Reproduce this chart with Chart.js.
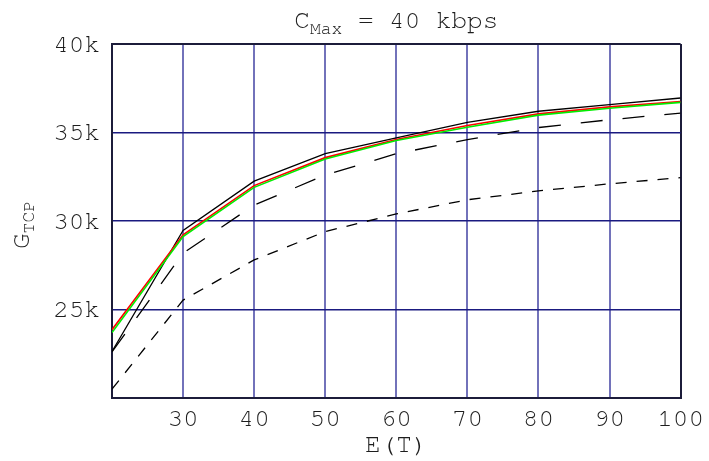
<!DOCTYPE html>
<html>
<head>
<meta charset="utf-8">
<script src="https://cdn.jsdelivr.net/npm/chart.js@4"></script>
<style>
  html, body { margin: 0; padding: 0; background: #fff; }
  #wrap { width: 709px; height: 461px; position: relative; }
</style>
</head>
<body>
<div id="wrap"><canvas id="c" width="709" height="461"></canvas></div>
<script>
const xValues = [20, 30, 40, 50, 60, 70, 80, 90, 100];
const solidBlack = [22630, 29470, 32250, 33800, 34700, 35570, 36200, 36570, 36950];
const redLine    = [23860, 29220, 32000, 33580, 34600, 35400, 36050, 36450, 36750];
const greenLine  = [23700, 29120, 31900, 33500, 34550, 35300, 35980, 36370, 36700];
const longDash   = [22600, 28180, 30900, 32600, 33800, 34600, 35280, 35720, 36100];
const shortDash  = [20500, 25530, 27800, 29400, 30400, 31200, 31700, 32100, 32450];
const xTicks = [30, 40, 50, 60, 70, 80, 90, 100];
const yTickLabels = { 25000: '25k', 30000: '30k', 35000: '35k', 40000: '40k' };

const FONT = "'Nimbus Mono PS', 'FreeMono', 'Courier New', Courier, 'Liberation Mono', monospace";
const TEXT = '#1e1e1e';
const pts = arr => xValues.map((x, i) => ({ x: x, y: arr[i] }));

const titlePlugin = {
  id: 'titles',
  afterDraw(chart) {
    const ctx = chart.ctx, a = chart.chartArea;
    const cx = (a.left + a.right) / 2;
    ctx.save();
    ctx.fillStyle = TEXT;
    ctx.textBaseline = 'alphabetic';
    ctx.textAlign = 'left';
    const big = '26px ' + FONT, small = '18px ' + FONT;
    ctx.font = big; const w1 = ctx.measureText('C').width;
    ctx.font = small; const w2 = ctx.measureText('Max').width;
    ctx.font = big; const w3 = ctx.measureText(' = 40 kbps').width;
    let x0 = cx - (w1 + w2 + w3) / 2;
    const ty = 28;
    ctx.font = big; ctx.fillText('C', x0, ty);
    ctx.font = small; ctx.fillText('Max', x0 + w1, ty + 6);
    ctx.font = big; ctx.fillText(' = 40 kbps', x0 + w1 + w2, ty);
    ctx.textAlign = 'center';
    ctx.font = big; ctx.fillText('E(T)', cx, 452);
    ctx.textAlign = 'left';
    ctx.font = big; const g1 = ctx.measureText('G').width;
    ctx.font = small; const g2 = ctx.measureText('TCP').width;
    ctx.translate(29, 225);
    ctx.rotate(-Math.PI / 2);
    const s = -(g1 + g2) / 2;
    ctx.font = big; ctx.fillText('G', s, 0);
    ctx.font = small; ctx.fillText('TCP', s + g1, 5);
    ctx.restore();
  }
};

const edge = '#1c1c3a';
new Chart(document.getElementById('c'), {
  type: 'line',
  data: {
    datasets: [
      { data: pts(shortDash), borderColor: '#000', borderWidth: 1.3, borderDash: [11, 10] },
      { data: pts(longDash), borderColor: '#000', borderWidth: 1.3, borderDash: [22, 20] },
      { data: pts(greenLine), borderColor: '#00ee00', borderWidth: 1.6 },
      { data: pts(redLine), borderColor: '#ff0000', borderWidth: 1.6 },
      { data: pts(solidBlack), borderColor: '#000', borderWidth: 1.3 }
    ]
  },
  options: {
    responsive: false,
    animation: false,
    layout: { padding: { top: 44, right: 25, left: 0, bottom: 0 } },
    elements: { point: { radius: 0 }, line: { tension: 0, fill: false } },
    plugins: { legend: { display: false }, tooltip: { enabled: false } },
    scales: {
      x: {
        type: 'linear', min: 20, max: 100,
        afterFit: s => { s.height = 63; },
        afterBuildTicks: s => { s.ticks = [20].concat(xTicks).map(v => ({ value: v })); },
        ticks: {
          padding: 5, color: TEXT, font: { family: FONT, size: 26 },
          callback: v => (v === 20 ? '' : String(v)), maxRotation: 0, autoSkip: false
        },
        grid: {
          drawTicks: false,
          color: c => (c.tick && c.tick.value === 100 ? edge : 'rgba(20,20,140,0.6)'),
          lineWidth: c => 2
        },
        border: { color: edge, width: 2 }
      },
      y: {
        min: 20000, max: 40000,
        afterFit: s => { s.width = 112; },
        ticks: {
          stepSize: 5000, padding: 12, color: TEXT, font: { family: FONT, size: 26 },
          callback: v => yTickLabels[v] || ''
        },
        grid: {
          drawTicks: false,
          color: c => (c.tick && c.tick.value === 40000 ? edge : '#1a1a80'),
          lineWidth: c => (c.tick && c.tick.value === 40000 ? 2 : 1.5)
        },
        border: { color: edge, width: 2 }
      }
    }
  },
  plugins: [titlePlugin]
});
</script>
</body>
</html>
